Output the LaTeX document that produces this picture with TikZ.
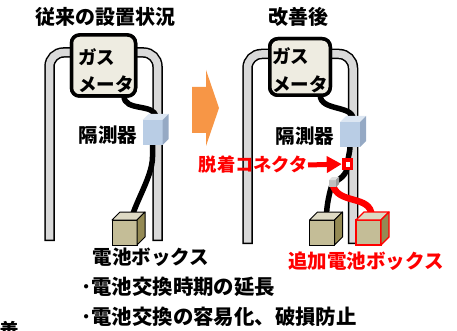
\documentclass[tikz,border=0pt]{standalone}
\usepackage{fontspec}
\setmainfont{Noto Sans CJK JP}
\usetikzlibrary{arrows.meta}

\definecolor{pipegray}{HTML}{D9D9D9}
\definecolor{meterfill}{HTML}{EEECE1}
\definecolor{sensfront}{HTML}{B9CDE5}
\definecolor{senstop}{HTML}{DCE6F2}
\definecolor{sensside}{HTML}{95A9C4}
\definecolor{battfront}{HTML}{C4BD97}
\definecolor{batttop}{HTML}{DDD9C3}
\definecolor{battside}{HTML}{948A54}
\definecolor{plugfront}{HTML}{BFBFBF}
\definecolor{plugtop}{HTML}{E0E0E0}
\definecolor{plugside}{HTML}{9A9A9A}
\definecolor{shiftorange}{HTML}{F79646}
\definecolor{alertred}{HTML}{FF0000}

% top and side faces of a box whose front face is the node #1
% #2 depth, #3 top colour, #4 side colour, #5 edge colour, #6 edge width
\newcommand\boxfaces[6]{%
  \filldraw[fill=#3, draw=#5, line width=#6, line join=round]
    (#1.north west) -- ++(#2,-#2) -- ([shift={(#2,-#2)}]#1.north east)
    -- (#1.north east) -- cycle;
  \filldraw[fill=#4, draw=#5, line width=#6, line join=round]
    (#1.north east) -- ([shift={(#2,-#2)}]#1.north east)
    -- ([shift={(#2,-#2)}]#1.south east) -- (#1.south east) -- cycle;
}

\begin{document}
\begin{tikzpicture}[x=1pt, y=-1pt,
  pipeedge/.style={draw=black, line width=10.5pt, rounded corners=14pt},
  pipecore/.style={draw=pipegray, line width=7.5pt, rounded corners=14pt},
  meter/.style={draw=black, line width=3.5pt, fill=meterfill,
    rounded corners=8pt, outer sep=0pt, inner sep=0pt},
  cable/.style={draw=black, line width=5.5pt},
  redcable/.style={draw=alertred, line width=6.5pt},
  sensor/.style={fill=sensfront, outer sep=0pt, inner sep=0pt,
    minimum width=20pt, minimum height=25pt},
  battery/.style={fill=battfront, draw=black, line width=1pt, outer sep=0pt,
    inner sep=0pt, minimum width=25pt, minimum height=25pt},
  redbattery/.style={battery, draw=alertred, line width=1.3pt},
  plug/.style={fill=plugfront, outer sep=0pt, inner sep=0pt, minimum size=7pt},
  connbox/.style={draw=alertred, line width=3.5pt, fill=white, outer sep=0pt,
    inner sep=0pt, minimum width=7.5pt, minimum height=8.5pt},
  title/.style={font=\bfseries\fontsize{20}{24}\selectfont},
  lbl/.style={font=\bfseries\fontsize{19.5}{24}\selectfont},
  meterlbl/.style={font=\bfseries\fontsize{18.5}{22}\selectfont, anchor=west, inner sep=0pt},
  redlbl/.style={font=\bfseries\fontsize{19}{24}\selectfont, text=alertred},
  bullet/.style={font=\bfseries\fontsize{20.4}{24}\selectfont, anchor=west, inner sep=0pt}
]
\useasboundingbox (0,0) rectangle (457,331);
\clip (0,0) rectangle (457,331);

% ---------- titles ----------
\node[title] (titleL) at (105,17) {従来の設置状況};
\node[title] (titleR) at (298,17) {改善後};

% ---------- gas pipes ----------
\draw[pipeedge] (49.5,241) -- (49.5,52.5) -- (157.5,52.5) -- (157.5,241);
\draw[pipecore] (49.5,239.5) -- (49.5,52.5) -- (157.5,52.5) -- (157.5,239.5);
\draw[pipeedge] (247.5,244) -- (247.5,54) -- (353,54) -- (353,244);
\draw[pipecore] (247.5,242.5) -- (247.5,54) -- (353,54) -- (353,242.5);

% ---------- node placement (front faces) ----------
\node[meter, minimum width=64pt, minimum height=61pt] (meterL) at (103.5,65.5) {};
\node[meter, minimum width=60.5pt, minimum height=56.5pt] (meterR) at (300,67) {};
\coordinate (meterLout) at ([xshift=-11.5pt]meterL.south east);
\coordinate (meterRout) at ([xshift=-10pt]meterR.south east);

% ---------- left arrangement ----------
\path (152.5,132.5) node[sensor] (sensorL) {};
\path (124.5,232.5) node[battery] (battL) {};
\coordinate (sensorLin) at ([shift={(3,-3)}]sensorL.north);
\coordinate (battLin) at ([shift={(5,-4)}]battL.north);

\draw[cable] (meterLout) .. controls +(0,16) and +(0,-14) .. (sensorLin);
\draw[cable] (sensorL.south) -- ++(0,12)
  .. controls +(0,22) and +(0,-20) .. ([yshift=-14pt]battLin) -- (battLin);

\node[sensor] at (sensorL) {};
\boxfaces{sensorL}{6}{senstop}{sensside}{none}{0pt}
\node[battery] at (battL) {};
\boxfaces{battL}{8}{batttop}{battside}{black}{1pt}

% ---------- right arrangement ----------
\path (350,134.5) node[sensor] (sensorR) {};
\path (347.5,164) node[connbox] (conn) {};
\path (332.5,183.5) node[plug] (plugR) {};
\path (322,232.5) node[battery] (battR) {};
\path (368.5,232.5) node[redbattery] (battAdd) {};
\coordinate (sensorRin) at ([shift={(3,-3)}]sensorR.north);
\coordinate (battRin) at ([shift={(4.5,-4)}]battR.north);
\coordinate (battAddin) at ([shift={(3,-4)}]battAdd.north);

\draw[cable] (meterRout) .. controls +(0,16) and +(0,-14) .. (sensorRin);
\draw[cable] (sensorR.south) .. controls +(0,5) and +(0,-5) .. (conn.center);
\draw[cable] (conn.center) .. controls +(0,12) and +(6,-4) .. (plugR.center);
\draw[cable] (plugR.center) .. controls +(-3,8) and +(0,-10) .. (battRin);
\draw[redcable] (plugR.center) .. controls +(4,22) and +(0,-22) .. (battAddin);

\node[sensor] at (sensorR) {};
\boxfaces{sensorR}{6}{senstop}{sensside}{none}{0pt}
\node[plug] at (plugR) {};
\boxfaces{plugR}{3}{plugtop}{plugside}{none}{0pt}
\node[connbox] at (conn) {};
\node[battery] at (battR) {};
\boxfaces{battR}{8}{batttop}{battside}{black}{1pt}
\node[redbattery] at (battAdd) {};
\boxfaces{battAdd}{8}{batttop}{battside}{alertred}{1.3pt}

% ---------- meters drawn over pipes and cable ends ----------
\node[meter, minimum width=64pt, minimum height=61pt] at (meterL) {};
\node[meterlbl] (gasL) at (78,57) {ガス};
\node[meterlbl] (mtrL) at (78,84) {メータ};
\node[meter, minimum width=60.5pt, minimum height=56.5pt] at (meterR) {};
\node[meterlbl] (gasR) at (272,56) {ガス};
\node[meterlbl] (mtrR) at (272,84) {メータ};

% ---------- labels ----------
\node[lbl] (sensLblL) at (108,135) {隔測器};
\node[lbl] (sensLblR) at (305,136) {隔測器};
\node[lbl] (battLblL) at (151,257) {電池ボックス};
\node[redlbl, font=\bfseries\fontsize{19.5}{24}\selectfont] (battLblR) at (366,261) {追加電池ボックス};
\node[redlbl, font=\bfseries\fontsize{18.3}{24}\selectfont, anchor=east, inner sep=0pt] (connLbl) at (308,165) {脱着コネクタ};
\draw[draw=alertred, line width=5pt, -{Triangle[length=15pt,width=16pt]}, shorten >=2pt]
  (connLbl.east) -- (conn.west);

% ---------- change arrow ----------
\fill[shiftorange] (192,87) -- (206,87) -- (206,70) -- (219,108) -- (206,146)
  -- (206,133) -- (192,133) -- cycle;

% ---------- effects ----------
\node[bullet] (effect1) at (81,287) {･電池交換時期の延長};
\node[bullet] (effect2) at (81,317) {･電池交換の容易化、破損防止};
\node[title] (cutoff) at (9,331) {善};
\end{tikzpicture}
\end{document}
